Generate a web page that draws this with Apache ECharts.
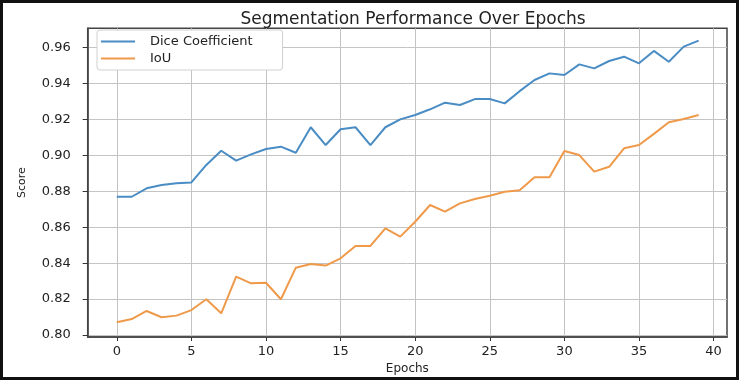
<!DOCTYPE html>
<html>
<head>
<meta charset="utf-8">
<script src="https://cdn.jsdelivr.net/npm/echarts@6/dist/echarts.min.js"></script>
<style>
  html, body { margin: 0; padding: 0; background: #fff; }
  #chart { width: 739px; height: 380px; }
</style>
</head>
<body>
<div id="chart"></div>
<script>
// Training epochs
const epochs = [0, 1, 2, 3, 4, 5, 6, 7, 8, 9, 10, 11, 12, 13, 14, 15, 16, 17, 18, 19,
                20, 21, 22, 23, 24, 25, 26, 27, 28, 29, 30, 31, 32, 33, 34, 35, 36, 37, 38, 39];

// Dice coefficient per epoch
const diceScores = [0.877, 0.877, 0.8817, 0.8835, 0.8845, 0.885, 0.8947, 0.9026, 0.8971, 0.9006,
                    0.9036, 0.9049, 0.9015, 0.9157, 0.9058, 0.9146, 0.9157, 0.9058, 0.9157, 0.9201,
                    0.9225, 0.9257, 0.9294, 0.9281, 0.9314, 0.9314, 0.929, 0.9358, 0.942, 0.9457,
                    0.9448, 0.9507, 0.9485, 0.9526, 0.955, 0.9513, 0.9582, 0.9522, 0.9606, 0.9639];

// IoU per epoch
const iouScores = [0.8071, 0.8089, 0.8134, 0.8099, 0.8108, 0.8139, 0.8199, 0.8121, 0.8325, 0.8288,
                   0.8291, 0.8199, 0.8375, 0.8395, 0.8387, 0.8427, 0.8496, 0.8496, 0.8594, 0.8548,
                   0.8631, 0.8724, 0.8687, 0.8733, 0.8757, 0.8776, 0.8798, 0.8806, 0.8878, 0.8878,
                   0.9025, 0.9002, 0.891, 0.8937, 0.904, 0.9058, 0.912, 0.9185, 0.9203, 0.9225];

// Tick positions
const xTicks = [0, 5, 10, 15, 20, 25, 30, 35, 40];
const yTicks = [0.80, 0.82, 0.84, 0.86, 0.88, 0.90, 0.92, 0.94, 0.96];

const FONT = 'DejaVu Sans';
const chart = echarts.init(document.getElementById('chart'), null, { renderer: 'canvas' });

const pairs = (vals) => epochs.map((e, i) => [e, vals[i]]);

chart.setOption({
  animation: false,
  backgroundColor: '#ffffff',
  graphic: [{
    type: 'rect',
    shape: { x: 1.5, y: 1.5, width: 736, height: 377 },
    style: { fill: 'none', stroke: '#111', lineWidth: 3 },
    z: 100
  }],
  title: {
    text: 'Segmentation Performance Over Epochs',
    left: 408,
    textAlign: 'center',
    top: 6,
    textStyle: { fontFamily: FONT, fontSize: 17, fontWeight: 'normal', color: '#222' }
  },
  legend: {
    orient: 'vertical',
    left: 97,
    top: 30,
    padding: [3, 30, 3, 4],
    itemWidth: 34,
    itemHeight: 2,
    itemGap: 0,
    icon: 'rect',
    backgroundColor: '#fff',
    borderColor: '#d0d0d0',
    borderWidth: 1,
    borderRadius: 3,
    textStyle: { fontFamily: FONT, fontSize: 13, color: '#222', lineHeight: 17, padding: [0, 0, 0, 10] },
    data: ['Dice Coefficient', 'IoU']
  },
  grid: {
    left: 87.7, top: 28.3, right: 12, bottom: 43,
    show: true, borderColor: '#444', borderWidth: 1.5, backgroundColor: 'transparent'
  },
  xAxis: {
    type: 'value',
    min: -1.95,
    max: 40.9,
    name: 'Epochs',
    nameLocation: 'middle',
    nameGap: 21,
    nameTextStyle: { fontFamily: FONT, fontSize: 12, color: '#222' },
    axisLine: { show: true, onZero: false, lineStyle: { color: '#444', width: 1.5 } },
    axisTick: { show: true, length: 4, customValues: xTicks, lineStyle: { color: '#333' } },
    axisLabel: { customValues: xTicks, margin: 8, fontFamily: FONT, fontSize: 13, color: '#222' },
    splitLine: { show: true, lineStyle: { color: '#c4c4c4', width: 1 } }
  },
  yAxis: {
    type: 'value',
    min: 0.7989,
    max: 0.9708,
    name: 'Score',
    nameLocation: 'middle',
    nameGap: 60,
    nameTextStyle: { fontFamily: FONT, fontSize: 11, color: '#222' },
    axisLine: { show: true, onZero: false, lineStyle: { color: '#444', width: 1.5 } },
    axisTick: { show: true, length: 5, customValues: yTicks, lineStyle: { color: '#333' } },
    axisLabel: {
      customValues: yTicks, margin: 17, fontFamily: FONT, fontSize: 13, color: '#222',
      formatter: (v) => v.toFixed(2)
    },
    splitLine: { show: true, lineStyle: { color: '#c4c4c4', width: 1 } }
  },
  series: [
    {
      name: 'Dice Coefficient',
      type: 'line',
      data: pairs(diceScores),
      showSymbol: false,
      symbol: 'none',
      color: '#4a8cc4',
      lineStyle: { width: 2, color: '#4a8cc4' },
      z: 3
    },
    {
      name: 'IoU',
      type: 'line',
      data: pairs(iouScores),
      showSymbol: false,
      symbol: 'none',
      color: '#ef9a4a',
      lineStyle: { width: 2, color: '#ef9a4a' },
      z: 3
    }
  ]
});
</script>
</body>
</html>
